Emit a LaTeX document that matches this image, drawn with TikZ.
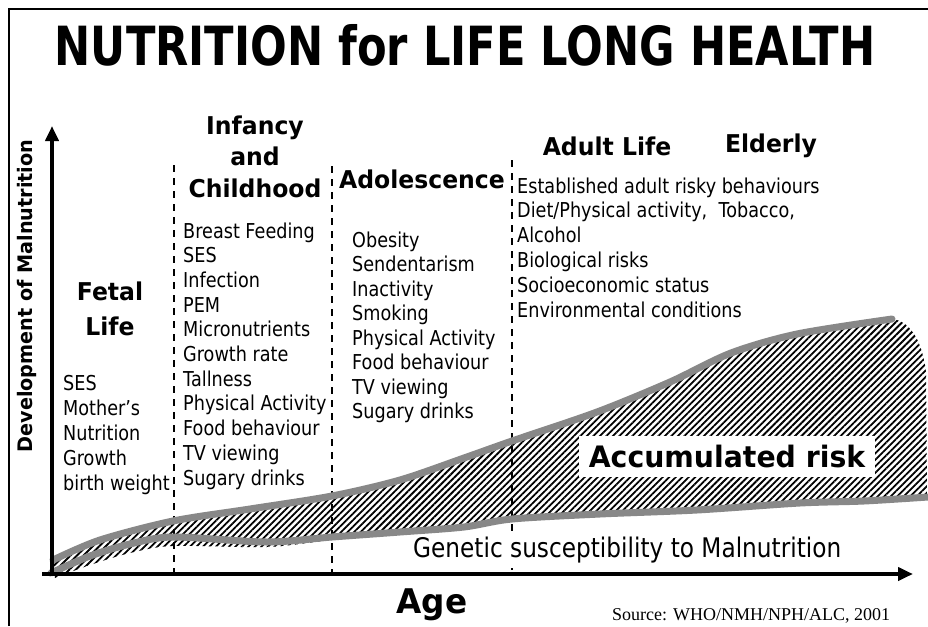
\documentclass[tikz,border=0pt]{standalone}
\usepackage{fontspec}
\setmainfont{DejaVu Sans}
\newfontfamily\bodyfont[FakeStretch=0.86]{DejaVu Sans}
\newfontfamily\headfont[FakeStretch=0.96]{DejaVu Sans}
\newfontfamily\titlefont[FakeStretch=0.8]{DejaVu Sans}
\newfontfamily\srcfont{Liberation Serif}
\usetikzlibrary{arrows.meta, patterns.meta}
\definecolor{curvegray}{RGB}{136,136,136}

\begin{document}
\begin{tikzpicture}[x=1pt, y=-1pt,
  item/.style={anchor=base west, inner sep=0pt, font=\bodyfont\fontsize{20.5}{24}\selectfont},
  head/.style={anchor=base, inner sep=0pt, font=\headfont\bfseries\fontsize{24.5}{28}\selectfont},
  stageline/.style={line width=2.4pt, dash pattern=on 7pt off 6pt},
  axis/.style={line width=4pt, -{Triangle[length=15pt,width=13pt]}},
  risk curve/.style={line width=7pt, curvegray, line cap=round}]
\useasboundingbox (0,0) rectangle (928,626);

% frame and title
\draw[line width=2pt] (9,626) -- (9,9) -- (928,9);
\node[anchor=base, inner sep=0pt, font=\titlefont\bfseries\fontsize{54}{58}\selectfont] (title) at (465,65) {NUTRITION for LIFE LONG HEALTH};

% hatched area between the two curves
\fill[pattern={Lines[angle=45,distance=4.6pt,line width=1.8pt]}]
  plot[smooth] coordinates {(53,562) (100,540) (173,521) (250,509) (332,496) (400,480) (464,458) (512,441) (597,412) (670,382) (731,353) (797,334) (892,319)}
  .. controls (910,321) and (922,340) .. (926,372) -- (927,498)
  -- plot[smooth] coordinates {(928,497) (864,502) (800,504) (697,511) (600,515) (512,520) (464,528) (400,534) (332,540) (267,547) (173,546) (130,553) (90,565) (55,578)} -- cycle;

% stage separators
\foreach \x/\top in {174/165, 332/166, 512/160}
  \draw[stageline] (\x,\top) -- (\x,573);
\node[item, fill=white, inner sep=5pt, font=\bodyfont\fontsize{27}{30}\selectfont] (gene) at (408,557) {Genetic susceptibility to Malnutrition};

% curves
\draw[risk curve] plot[smooth] coordinates {(53,560) (100,540) (173,521) (250,509) (332,496) (400,480) (464,458) (512,441) (597,412) (670,382) (731,353) (797,334) (892,319)};
\draw[risk curve] plot[smooth] coordinates {(51,573) (90,556) (130,544) (173,537) (267,542) (332,537) (400,532) (464,527) (512,519) (600,514) (697,510) (800,503) (864,501) (928,497)};

% axes
\draw[axis] (52,576) -- (52,126);
\draw[axis] (42,574) -- (913,574);
\node[rotate=90, inner sep=0pt, font=\headfont\bfseries\fontsize{20}{24}\selectfont] (ylab) at (27,296) {Development of Malnutrition};
\node[head, font=\headfont\bfseries\fontsize{34}{40}\selectfont] (age) at (432,613) {Age};
\node[anchor=base west, inner sep=0pt, font=\srcfont\fontsize{18}{20}\selectfont] (src) at (612,620) {Source: WHO/NMH/NPH/ALC, 2001};

% stage headings
\node[head] (fetal) at (110,300) {Fetal};
\node[head] (fetal2) at (110,335) {Life};
\node[head] (inf) at (255,134) {Infancy};
\node[head] (inf2) at (255,165) {and};
\node[head] (inf3) at (255,197) {Childhood};
\node[head] (adol) at (422,188) {Adolescence};
\node[head] (adult) at (607,155) {Adult Life};
\node[head] (elder) at (771,152) {Elderly};

% risk factors of each stage
\foreach \t [count=\i] in {SES, Mother’s, Nutrition, Growth, birth weight}
  \node[item] (fet\i) at (63,{390+25*(\i-1)}) {\t};
\foreach \t [count=\i] in {Breast Feeding, SES, Infection, PEM, Micronutrients, Growth rate, Tallness, Physical Activity, Food behaviour, TV viewing, Sugary drinks}
  \node[item] (chi\i) at (183,{238+24.7*(\i-1)}) {\t};
\foreach \t [count=\i] in {Obesity, Sendentarism, Inactivity, Smoking, Physical Activity, Food behaviour, TV viewing, Sugary drinks}
  \node[item] (ado\i) at (352,{247+24.5*(\i-1)}) {\t};
\foreach \t [count=\i] in {Established adult risky behaviours, {Diet/Physical activity,\ \ Tobacco,}, Alcohol, Biological risks, Socioeconomic status, Environmental conditions}
  \node[item] (adu\i) at (517,{193+24.8*(\i-1)}) {\t};

% label on the hatched area
\node[fill=white, minimum width=296pt, minimum height=41pt, inner sep=0pt, font=\headfont\bfseries\fontsize{29.5}{34}\selectfont] (risk) at (727,456.5) {Accumulated risk};
\end{tikzpicture}
\end{document}
